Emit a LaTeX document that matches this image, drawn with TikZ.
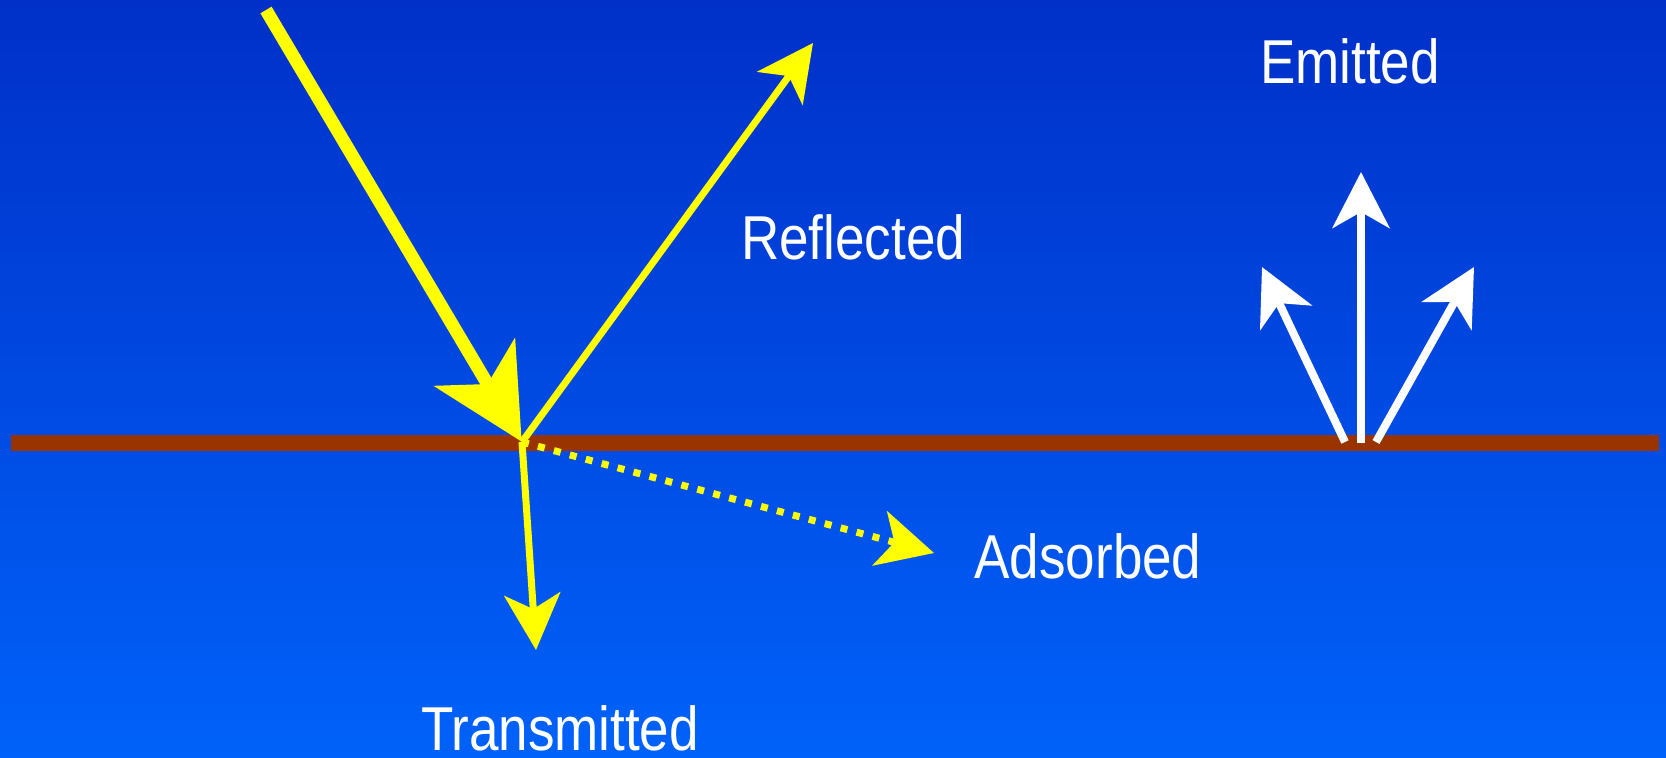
\documentclass[tikz,border=0pt]{standalone}
\usepackage{fontspec}
\setmainfont{Liberation Sans}
\usetikzlibrary{arrows.meta}
\definecolor{bgtop}{RGB}{0,48,200}
\definecolor{bgbot}{RGB}{0,98,250}
\definecolor{ground}{RGB}{153,51,0}
\definecolor{ray}{RGB}{255,255,0}
\tikzset{
  lbl/.style={text=white, inner sep=0pt, anchor=base, font=\fontsize{62}{62}\selectfont},
  bigray/.style={draw=ray, line width=13pt, -{Stealth[length=92pt, width=93pt, inset=25pt, fill=ray]}},
  thinray/.style={draw=ray, line width=7pt, -{Stealth[length=56pt, width=56pt, inset=15pt, fill=ray]}},
  dotray/.style={thinray, dash pattern=on 7pt off 9.5pt},
  emit/.style={draw=white, line width=8pt, -{Stealth[length=56pt, width=57pt, inset=16pt, fill=white]}},
  surface/.style={draw=ground, line width=16pt}
}
\newcommand{\sq}[1]{\scalebox{0.855}[1]{#1}}
\begin{document}
\begin{tikzpicture}[x=1pt,y=-1pt]
  \useasboundingbox (0,0) rectangle (1666,758);
  \shade[top color=bgtop, bottom color=bgbot] (0,0) rectangle (1666,758);
  % surface
  \coordinate (sL) at (10.6,443);
  \coordinate (sR) at (1659,443);
  \draw[surface] (sL) -- (sR);
  % ray points
  \coordinate (src) at (266,10);
  \coordinate (hit) at (522,442);
  \coordinate (refl) at (813,43);
  \coordinate (trans) at (536,650);
  \coordinate (ads) at (934,553);
  \coordinate (inc) at (521.7,441.7);
  \draw[bigray] (src) -- (inc);
  \draw[thinray] (hit) -- (refl);
  \draw[thinray] (hit) -- (trans);
  \draw[dotray] (hit) -- (ads);
  % emitted
  \coordinate (eL0) at (1345,442);
  \coordinate (eC0) at (1361,443);
  \coordinate (eR0) at (1376,442);
  \coordinate (eL1) at (1262,267);
  \coordinate (eC1) at (1361,172);
  \coordinate (eR1) at (1474,267);
  \draw[emit] (eL0) -- (eL1);
  \draw[emit] (eC0) -- (eC1);
  \draw[emit] (eR0) -- (eR1);
  % labels
  \node[lbl] (tEm) at (1350,83) {\sq{Emitted}};
  \node[lbl] (tRe) at (853,259) {\sq{Reflected}};
  \node[lbl] (tAd) at (1088,578) {\sq{Adsorbed}};
  \node[lbl] (tTr) at (560,750) {\sq{Transmitted}};
\end{tikzpicture}
\end{document}
